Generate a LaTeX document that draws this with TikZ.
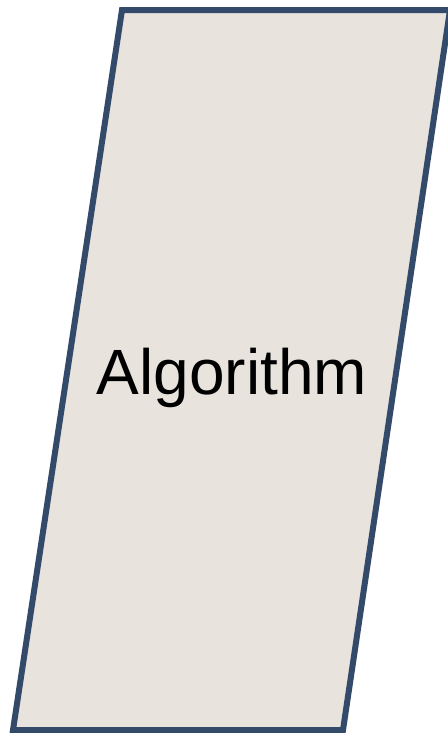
\documentclass[tikz,border=0pt]{standalone}
\usepackage{fontspec}
\setmainfont{Liberation Sans}
\definecolor{algoedge}{RGB}{52,74,106}
\definecolor{algofill}{RGB}{232,227,220}

\begin{document}
\begin{tikzpicture}[x=0.75pt,y=-0.75pt,
        shapeline/.style={draw=algoedge,fill=algofill,line width=4.5pt,line join=miter},
        label/.style={font=\fontsize{48}{56}\selectfont,text=black}]
        \useasboundingbox (0,0) rectangle (448,733);
        \draw[shapeline] (122,10) -- (450,10) -- (343,730) -- (13,730) -- cycle;
        \node[label] (algo) at (232,378) {Algorithm};
      \end{tikzpicture}
\end{document}
